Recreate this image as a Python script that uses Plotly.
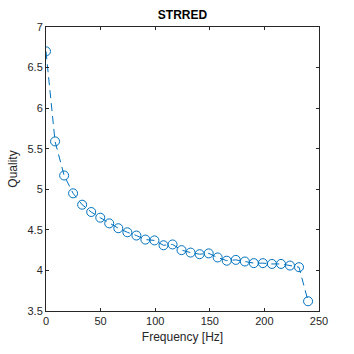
import plotly.graph_objects as go

freq_hz = [0, 8.3, 16.6, 24.8, 33.1, 41.4, 49.7, 57.9, 66.2, 74.5, 82.8, 91.0, 99.3, 107.6,
           115.9, 124.1, 132.4, 140.7, 149.0, 157.2, 165.5, 173.8, 182.1, 190.3, 198.6,
           206.9, 215.2, 223.4, 231.7, 240]
quality = [6.70, 5.59, 5.17, 4.95, 4.81, 4.72, 4.65, 4.58, 4.52, 4.47, 4.43, 4.38, 4.37, 4.31,
           4.32, 4.25, 4.22, 4.20, 4.21, 4.16, 4.12, 4.13, 4.11, 4.09, 4.09, 4.08, 4.08, 4.06,
           4.04, 3.62]
x_ticks = [0, 50, 100, 150, 200, 250]
y_ticks = [3.5, 4, 4.5, 5, 5.5, 6, 6.5, 7]

blue = "#0072BD"
fig = go.Figure(go.Scatter(
    x=freq_hz, y=quality, mode="lines+markers",
    line=dict(color=blue, width=1, dash="8px,5px"),
    marker=dict(symbol="circle-open", size=9, color=blue, line=dict(width=1, color=blue)),
))

axis_common = dict(showline=True, linecolor="#262626", linewidth=1, mirror="ticks",
                   ticks="inside", ticklen=3, tickcolor="#262626", showgrid=False,
                   zeroline=False, tickfont=dict(size=11, color="#262626"))
fig.update_layout(
    width=354, height=354,
    margin=dict(l=46, r=35, t=27, b=40),
    paper_bgcolor="white", plot_bgcolor="white",
    font=dict(family="Liberation Sans, Arial, sans-serif", color="#262626"),
    title=dict(text="<b>STRRED</b>", x=0.5, xanchor="center", xref="paper",
               y=1, yref="container", yanchor="top", pad=dict(t=11),
               font=dict(size=12, color="black")),
    showlegend=False,
    xaxis=dict(range=[0, 250], tickvals=x_ticks,
               title=dict(text="Frequency [Hz]", font=dict(size=12), standoff=6), **axis_common),
    yaxis=dict(range=[3.5, 7], tickvals=y_ticks,
               title=dict(text="Quality", font=dict(size=12), standoff=7), **axis_common),
)
fig.write_html("out.html")
